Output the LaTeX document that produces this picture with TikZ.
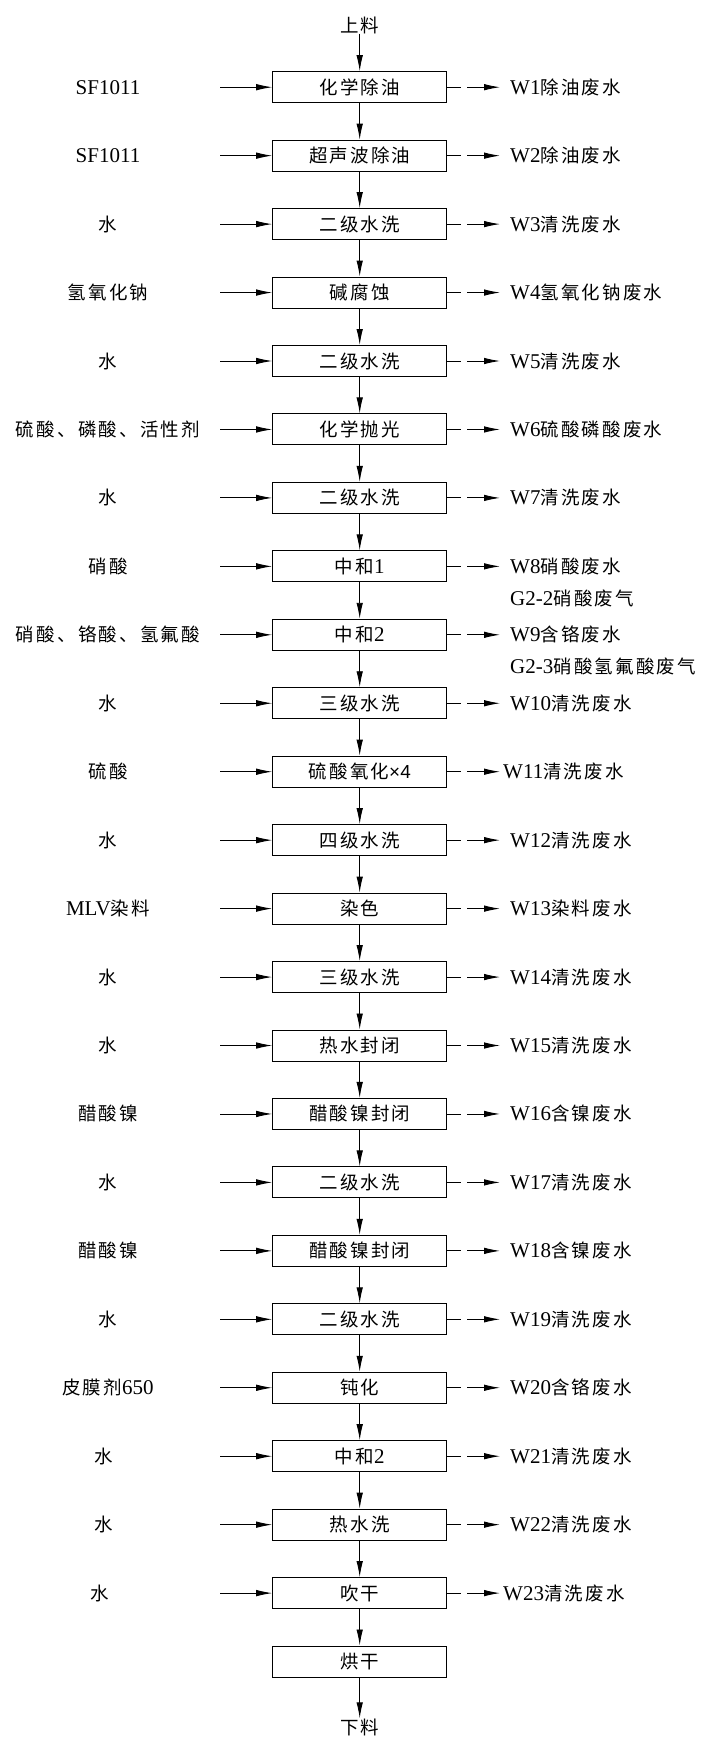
\documentclass[tikz,border=0pt]{standalone}
\usepackage{fontspec}
\setmainfont{Liberation Serif}
\newfontfamily\zhfont{Noto Sans CJK SC}[Scale=0.88,LetterSpace=12]
\newfontfamily\arialfont{Liberation Sans}[Scale=0.9]
\newcommand\zh[1]{{\zhfont #1}}
\usetikzlibrary{arrows.meta}
\begin{document}
\begin{tikzpicture}[x=1pt,y=-1pt,
  every node/.style={font=\fontsize{21}{25}\selectfont, inner sep=0pt},
  proc/.style={draw, line width=1pt, minimum width=174pt, minimum height=31pt},
  flow/.style={-{Latex[length=16pt,width=6.5pt]}, line width=0.9pt},
  outflow/.style={flow, dash pattern=on 14pt off 6pt on 80pt}]
\path[use as bounding box] (0,0) rectangle (708,1738);
\node (top) at (359.7,25) {\zh{上料}};
\foreach \i/\lx/\l/\b/\rx/\r in {
  0/108/SF1011/\zh{化学除油}/510/W1\zh{除油废水},
  1/108/SF1011/\zh{超声波除油}/510/W2\zh{除油废水},
  2/108/\zh{水}/\zh{二级水洗}/510/W3\zh{清洗废水},
  3/108/\zh{氢氧化钠}/\zh{碱腐蚀}/510/W4\zh{氢氧化钠废水},
  4/108/\zh{水}/\zh{二级水洗}/510/W5\zh{清洗废水},
  5/108/\zh{硫酸、磷酸、活性剂}/\zh{化学抛光}/510/W6\zh{硫酸磷酸废水},
  6/108/\zh{水}/\zh{二级水洗}/510/W7\zh{清洗废水},
  7/108/\zh{硝酸}/\zh{中和}1/510/W8\zh{硝酸废水},
  8/108/\zh{硝酸、铬酸、氢氟酸}/\zh{中和}2/510/W9\zh{含铬废水},
  9/108/\zh{水}/\zh{三级水洗}/510/W10\zh{清洗废水},
  10/108/\zh{硫酸}/\zh{硫酸氧化}{\arialfont ×4}/503/W11\zh{清洗废水},
  11/108/\zh{水}/\zh{四级水洗}/510/W12\zh{清洗废水},
  12/108/MLV\zh{染料}/\zh{染色}/510/W13\zh{染料废水},
  13/108/\zh{水}/\zh{三级水洗}/510/W14\zh{清洗废水},
  14/108/\zh{水}/\zh{热水封闭}/510/W15\zh{清洗废水},
  15/108/\zh{醋酸镍}/\zh{醋酸镍封闭}/510/W16\zh{含镍废水},
  16/108/\zh{水}/\zh{二级水洗}/510/W17\zh{清洗废水},
  17/108/\zh{醋酸镍}/\zh{醋酸镍封闭}/510/W18\zh{含镍废水},
  18/108/\zh{水}/\zh{二级水洗}/510/W19\zh{清洗废水},
  19/108/\zh{皮膜剂}650/\zh{钝化}/510/W20\zh{含铬废水},
  20/104/\zh{水}/\zh{中和}2/510/W21\zh{清洗废水},
  21/104/\zh{水}/\zh{热水洗}/510/W22\zh{清洗废水},
  22/100/\zh{水}/\zh{吹干}/503/W23\zh{清洗废水}} {
  \pgfmathsetmacro\yy{87.2+\i*68.45}
  \node[proc] (B\i) at (359.7,\yy) {\b};
  \node (L\i) at (\lx,\yy) {\l};
  \node[anchor=west] (R\i) at (\rx,\yy) {\r};
  \coordinate (LA\i) at (220,\yy);
  \coordinate (RA\i) at (500,\yy);
  \draw[flow] (LA\i) -- (B\i.west);
  \draw[outflow] (B\i.east) -- (RA\i);
}
\node[proc] (B23) at (359.7,1661.5) {\zh{烘干}};
\node (bot) at (359.7,1727) {\zh{下料}};
\node[anchor=west] (R7b) at (510,598) {G2-2\zh{硝酸废气}};
\node[anchor=west] (R8b) at (510,666.5) {G2-3\zh{硝酸氢氟酸废气}};
\draw[flow] (top) -- (B0);
\foreach \i [evaluate=\i as \j using int(\i+1)] in {0,...,22} {
  \draw[flow] (B\i) -- (B\j);
}
\draw[flow] (B23) -- (bot);
\end{tikzpicture}
\end{document}
